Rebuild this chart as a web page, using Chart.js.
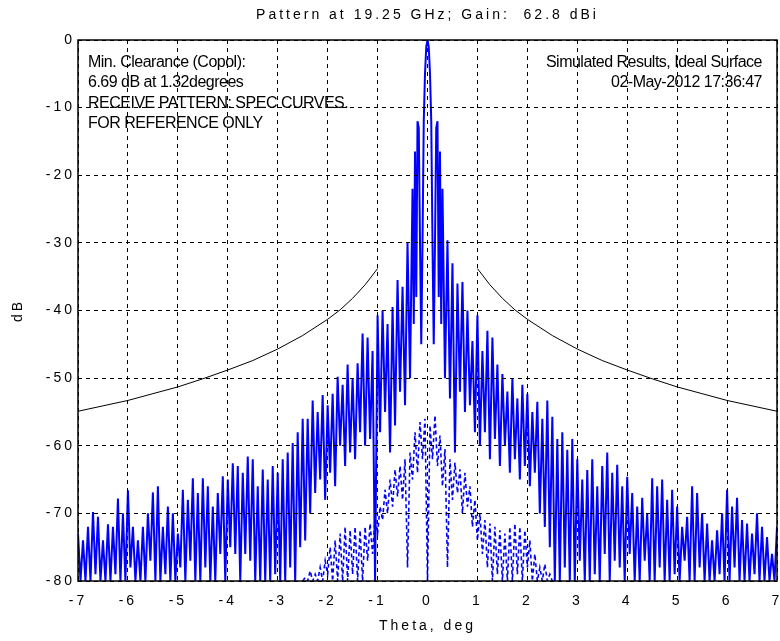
<!DOCTYPE html>
<html>
<head>
<meta charset="utf-8">
<script src="https://cdn.jsdelivr.net/npm/chart.js@4.4.0/dist/chart.umd.min.js"></script>
<style>
html,body{margin:0;padding:0;background:#fff;}
canvas{display:block;}
</style>
</head>
<body>
<canvas id="c" width="780" height="641"></canvas>
<script>
// ---------- text content ----------
const chartTitle = 'Pattern at 19.25 GHz; Gain:  62.8 dBi';
const xAxisTitle = 'Theta, deg';
const yAxisTitle = 'dB';
const xTickValues = [-7, -6, -5, -4, -3, -2, -1, 0, 1, 2, 3, 4, 5, 6, 7];
const yTickValues = [-80, -70, -60, -50, -40, -30, -20, -10, 0];
const noteLeftLines = ['Min. Clearance (Copol):', '6.69 dB at 1.32degrees', 'RECEIVE PATTERN: SPEC CURVES.', 'FOR REFERENCE ONLY'];
const noteRightLines = ['Simulated Results, Ideal Surface', '02-May-2012 17:36:47'];

// ---------- spec curve (read values, same on both sides) ----------
const specTheta = [1, 1.25, 1.5, 1.75, 2, 2.5, 3, 3.5, 4, 4.5, 5, 5.5, 6, 6.5, 7];
const specDb = [-33.8, -36.2, -38.2, -39.9, -41.3, -43.7, -45.7, -47.4, -48.8, -50.1, -51.3, -52.3, -53.3, -54.1, -54.9];

// ---------- copol pattern ----------
// main beam region
const copolCoreTheta = [-0.3, -0.275, -0.25, -0.225, -0.2, -0.175, -0.15, -0.125, -0.1, -0.075, -0.05, -0.025, 0,
                        0.025, 0.05, 0.075, 0.1, 0.125, 0.15, 0.175, 0.2, 0.225, 0.25, 0.275, 0.3];
const copolCoreDb = [-22, -42, -16.5, -38, -12, -13, -30, -45, -30, -12, -5, -1, 0,
                     -1, -5, -12, -30, -45, -30, -13, -12, -38, -16.5, -42, -22];
// side lobes: nulls at 0.35, 0.45, ... ; peaks at 0.4, 0.5, ... (degrees from boresight)
const lobeFirstNull = 0.35;
const lobeStep = 0.1;
const copolRightPeakDb = [-29.6, -33, -36, -35.8, -40, -44.5,
  -40.7, -46, -43, -44, -48, -49.4, -52, -50, -53, -51,
  -52.3, -55, -53.5, -56, -53.3, -55.7, -59, -58, -60.6, -59,
  -62, -65, -63.6, -62, -66, -63, -61, -64, -62.8, -66,
  -64.6, -67, -69, -67.7, -70, -64.8, -66, -65, -68, -66.5,
  -69, -72, -70.5, -66, -67, -70, -71.5, -74, -72.5, -70,
  -66.5, -69, -67.7, -71, -71.5, -73, -70, -72, -73.5, -76,
  -72];
const copolRightNullDb = [-50, -53, -61, -52, -55, -54, -58,
  -60, -58, -62, -59, -63, -60, -64, -62, -65, -63,
  -66, -64, -70, -72, -75, -80, -80, -78, -80, -80,
  -77, -80, -80, -79, -80, -76, -80, -77, -78, -80,
  -76, -80, -80, -77, -80, -80, -78, -80, -80, -79,
  -80, -77, -80, -80, -78, -80, -80, -80, -79, -80,
  -80, -78, -80, -80, -80, -79, -80, -80, -80, -80];
const copolLeftPeakDb = [-30, -36.5, -35.5, -39.5, -42, -40,
  -40.7, -46, -44, -43.4, -47.8, -50, -48, -51, -49.8, -52.3,
  -54, -52.5, -55, -53.3, -56, -56, -58, -59.6, -61, -62,
  -64, -63, -65, -63.5, -66, -62, -61.6, -64, -63, -62.6,
  -65, -64.5, -67, -69, -66, -64.8, -67, -64.8, -68, -66.5,
  -73, -70, -69, -72, -66, -66.9, -70, -72, -74, -72,
  -66.6, -70, -67.8, -72, -71.6, -74, -70.5, -69.8, -72, -74,
  -73];
const copolLeftNullDb = [-50, -54, -52, -57, -61, -55, -58,
  -80, -59, -60, -58, -62, -61, -63, -60, -66, -64,
  -68, -65, -67, -70, -74, -75, -80, -78, -80, -80,
  -79, -80, -80, -80, -80, -77, -76, -80, -76, -75,
  -80, -76, -80, -80, -78, -80, -80, -77, -80, -78,
  -80, -80, -79, -80, -80, -77, -80, -80, -80, -78,
  -80, -80, -79, -80, -80, -80, -79, -80, -80, -80];

// ---------- crosspol pattern ----------
// null at boresight; peaks at 0.05, 0.15, ... ; nulls at 0.1, 0.2, ...
const xpolCenterDb = -80;
const xpolFirstPeak = 0.05;
const xpolRightPeakDb = [-57, -55.5, -58.5, -60.5, -62, -62.5, -63.5, -64, -66, -68, -70, -71, -71.5,
  -72, -72.5, -73, -72, -71.5, -72, -72.5, -74, -76, -78, -77.5, -79];
const xpolRightNullDb = [-62, -63, -66, -78, -68, -67, -70, -69, -72, -74, -76, -78, -80,
  -79, -80, -80, -80, -79, -80, -78, -80, -80, -80, -80, -80];
const xpolLeftPeakDb = [-56, -56.5, -58, -61, -62, -63, -63.5, -65, -66.5, -69, -70.5, -71.5, -72,
  -72.5, -72, -72.5, -72, -73, -74, -75, -77, -78, -79, -78.5, -79.5];
const xpolLeftNullDb = [-62, -64, -65, -78, -68, -67.5, -69, -70, -71, -73, -76, -77, -80,
  -80, -79, -80, -80, -80, -80, -79, -80, -80, -80, -80, -80];

// ---------- note placement (data coordinates) ----------
const noteLeftTheta = -6.8;
const noteRightTheta = 6.7;
const noteLineDb = [-4, -7, -10, -13];

// ---------- build point lists from the arrays ----------
const r3 = v => Math.round(v * 1000) / 1000;
function alternate(sign, start, step, firstVals, secondVals) {
  const pts = [];
  for (let i = 0; i < firstVals.length; i++) {
    pts.push({x: r3(sign * (start + i * step)), y: firstVals[i]});
    if (i < secondVals.length) pts.push({x: r3(sign * (start + step / 2 + i * step)), y: secondVals[i]});
  }
  return pts;
}
const copolLeft = alternate(-1, lobeFirstNull, lobeStep, copolLeftNullDb, copolLeftPeakDb).reverse();
const copolCore = copolCoreTheta.map((t, i) => ({x: t, y: copolCoreDb[i]}));
const copolRight = alternate(1, lobeFirstNull, lobeStep, copolRightNullDb, copolRightPeakDb);
const copolPts = copolLeft.concat(copolCore, copolRight);

const xpolLeft = alternate(-1, xpolFirstPeak, lobeStep, xpolLeftPeakDb, xpolLeftNullDb).reverse();
const xpolRight = alternate(1, xpolFirstPeak, lobeStep, xpolRightPeakDb, xpolRightNullDb);
const xpolPts = xpolLeft.concat([{x: 0, y: xpolCenterDb}], xpolRight);

const specPts = specTheta.slice().reverse().map((t, i) => ({x: -t, y: specDb[specDb.length - 1 - i]}))
  .concat([{x: 0, y: null}], specTheta.map((t, i) => ({x: t, y: specDb[i]})));

// ---------- plugins ----------
const FONT = '"Liberation Sans", Arial, sans-serif';
const spacingPlugin = {
  id: 'spacing',
  beforeDraw(chart) { chart.ctx.letterSpacing = '3px'; }
};
const notesPlugin = {
  id: 'notes',
  afterDraw(chart) {
    const {ctx, chartArea: a, scales: {x, y}} = chart;
    ctx.save();
    ctx.letterSpacing = '0px';
    ctx.strokeStyle = '#000';
    ctx.lineWidth = 1.5;
    ctx.strokeRect(a.left, a.top, a.right - a.left, a.bottom - a.top);
    ctx.fillStyle = '#000';
    ctx.font = '16px ' + FONT;
    ctx.letterSpacing = '-0.5px';
    ctx.textBaseline = 'alphabetic';
    ctx.textAlign = 'left';
    noteLeftLines.forEach((t, i) => ctx.fillText(t, x.getPixelForValue(noteLeftTheta), y.getPixelForValue(noteLineDb[i])));
    ctx.textAlign = 'right';
    noteRightLines.forEach((t, i) => ctx.fillText(t, x.getPixelForValue(noteRightTheta), y.getPixelForValue(noteLineDb[i])));
    ctx.restore();
    ctx.letterSpacing = '0px';
  }
};

const gridCommon = {color: '#000', lineWidth: 1, drawTicks: false, z: 1};

new Chart(document.getElementById('c'), {
  type: 'line',
  data: {
    datasets: [
      {label: 'Spec', data: specPts, borderColor: '#000', borderWidth: 1, pointRadius: 0, spanGaps: false},
      {label: 'Copol', data: copolPts, borderColor: '#0000ff', borderWidth: 2, pointRadius: 0},
      {label: 'Crosspol', data: xpolPts, borderColor: '#0000ff', borderWidth: 1.6, borderDash: [4, 3], pointRadius: 0}
    ]
  },
  options: {
    responsive: false,
    animation: false,
    devicePixelRatio: 1,
    events: [],
    layout: {padding: {left: 0, right: 3, top: 0, bottom: 0}},
    elements: {line: {tension: 0}},
    plugins: {
      legend: {display: false},
      tooltip: {enabled: false},
      title: {
        display: true, text: chartTitle, fullSize: false, color: '#000',
        font: {family: FONT, size: 14, weight: 'normal', lineHeight: 1.2},
        padding: {top: 7, bottom: 16.2}
      }
    },
    scales: {
      x: {
        type: 'linear', min: -7, max: 7,
        afterBuildTicks: s => { s.ticks = xTickValues.map(v => ({value: v})); },
        afterFit: s => { s.height = 60; s.paddingLeft = 0; s.paddingRight = 0; },
        ticks: {color: '#000', padding: 12, maxRotation: 0, font: {family: FONT, size: 14}},
        grid: gridCommon,
        border: {display: false, color: '#000', width: 1, dash: [4, 4]},
        title: {display: true, text: xAxisTitle, color: '#000', font: {family: FONT, size: 14}, padding: {top: 0, bottom: 6}}
      },
      y: {
        type: 'linear', min: -80, max: 0,
        afterBuildTicks: s => { s.ticks = yTickValues.map(v => ({value: v})); },
        afterFit: s => { s.width = 78; s.paddingTop = 0; s.paddingBottom = 0; },
        ticks: {color: '#000', padding: 3, font: {family: FONT, size: 14}},
        grid: gridCommon,
        border: {display: false, color: '#000', width: 1, dash: [4, 4]},
        title: {display: true, text: yAxisTitle, color: '#000', font: {family: FONT, size: 14}, padding: {top: 10, bottom: 0}}
      }
    }
  },
  plugins: [spacingPlugin, notesPlugin]
});
</script>
</body>
</html>
